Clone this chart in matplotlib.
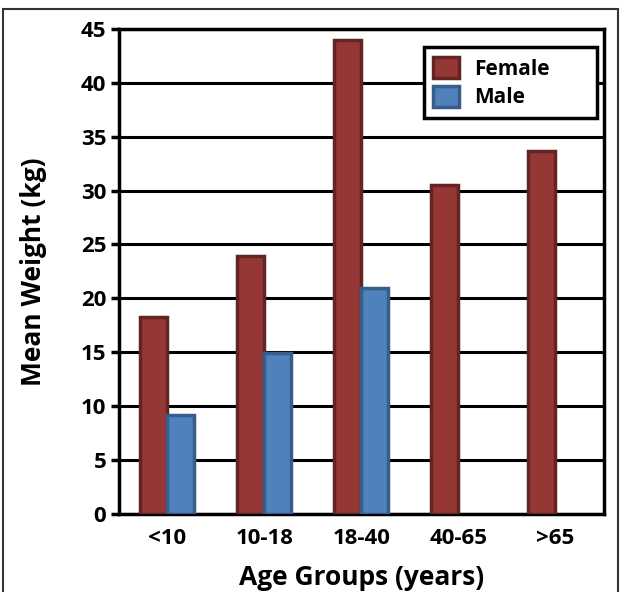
import numpy as np
import matplotlib
matplotlib.use('Agg')
import matplotlib.pyplot as plt
from matplotlib.patches import Rectangle

# Datos (sin dato de hombres en 40-65 y >65)
age_groups = ['<10', '10-18', '18-40', '40-65', '>65']
female = [18.3, 23.9, 44.0, 30.5, 33.7]
male = [9.2, 14.9, 21.0, None, None]

plt.rcParams['font.family'] = ['Open Sans', 'DejaVu Sans']
plt.rcParams['font.weight'] = 'bold'

fig = plt.figure(figsize=(6.25, 5.92), dpi=100)
# marco exterior
fig.patches.append(Rectangle((0.005, -0.01), 0.984, 0.995, transform=fig.transFigure,
                             fill=False, edgecolor='#333333', linewidth=1.5))
ax = fig.add_axes([0.19, 0.132, 0.776, 0.819])

x = np.arange(len(age_groups))
w = 0.28
male_vals = np.array(male, dtype=float)
ax.bar(x - w / 2, female, w, color='#953735', edgecolor='#632523', linewidth=2.5,
       label='Female', zorder=3)
ax.bar(x + w / 2, male_vals, w, color='#4F81BD', edgecolor='#385D8A', linewidth=2.5,
       label='Male', zorder=3)

ax.set_xlim(-0.5, 4.5)
ax.set_ylim(0, 45)
ax.set_yticks(range(0, 50, 5))
ax.set_xticks(x)
ax.set_xticklabels(age_groups)
ax.tick_params(axis='x', length=0, labelsize=16, pad=10)
ax.tick_params(axis='y', length=6, width=2.5, labelsize=16, pad=3)
ax.grid(axis='y', color='black', linewidth=2.2, zorder=0)
for s in ax.spines.values():
    s.set_linewidth(2.5)
    s.set_color('black')

ax.set_xlabel('Age Groups (years)', fontsize=19, fontweight='bold', labelpad=11)
ax.set_ylabel('Mean Weight (kg)', fontsize=19, fontweight='bold', labelpad=24)

leg = ax.legend(loc='upper left', bbox_to_anchor=(0.629, 0.812, 0.357, 0.15),
                mode='expand', fontsize=15,
                fancybox=False, framealpha=1, edgecolor='black',
                handlelength=1.25, handleheight=1.2, borderpad=0.45, labelspacing=0.3,
                handletextpad=0.7, borderaxespad=0)
leg.get_frame().set_linewidth(2.5)
for p in leg.get_patches():
    p.set_linewidth(2.5)

fig.savefig('out.png', dpi=100)
